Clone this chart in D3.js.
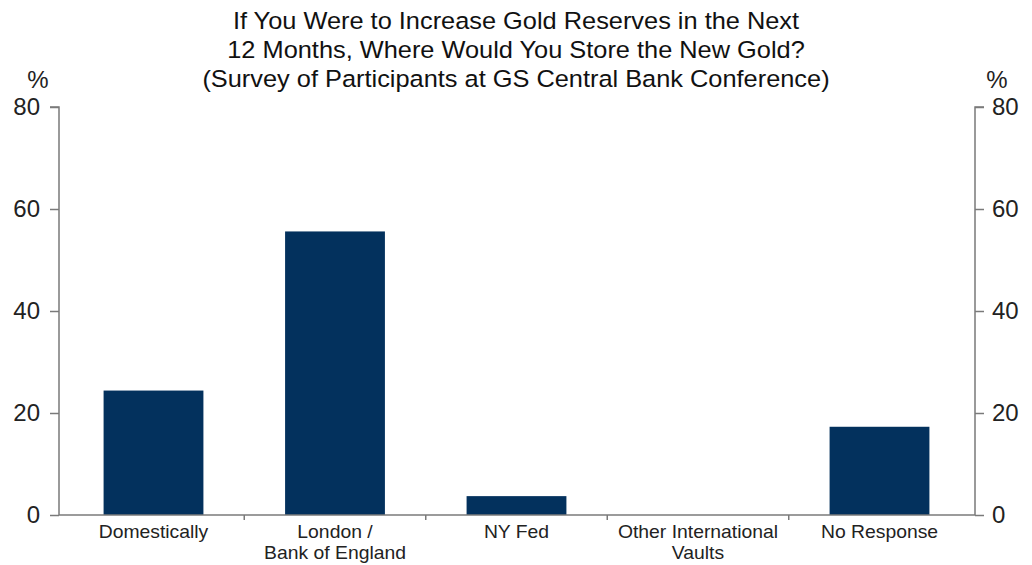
<!DOCTYPE html>
<html><head><meta charset="utf-8">
<script src="https://cdn.jsdelivr.net/npm/d3@7"></script>
<style>body{margin:0;background:#fff;} text{font-family:"Liberation Sans",Arial,sans-serif;}</style>
</head><body>
<svg id="c" width="1032" height="565"></svg>
<script>
const categories = [["Domestically"], ["London /", "Bank of England"], ["NY Fed"], ["Other International", "Vaults"], ["No Response"]];
const values = [24.4, 55.6, 3.7, 0, 17.3];
const yTicks = [0, 20, 40, 60, 80];
const titleLines = ["If You Were to Increase Gold Reserves in the Next", "12 Months, Where Would You Store the New Gold?", "(Survey of Participants at GS Central Bank Conference)"];

(function(){
const svg = d3.select("#c");
const mLeft = 59, mRight = 975, mTop = 107, mBottom = 515;
const keys = categories.map((c,i)=>i);
const x = d3.scaleBand().domain(keys).range([62.75, 970.25]).paddingInner(0.45).paddingOuter(0.225);
const y = d3.scaleLinear().domain([0, 80]).range([mBottom, mTop]);
const axisCol = "#7a7a7a";

svg.selectAll("rect.bar").data(values).join("rect").attr("class","bar")
  .attr("x",(d,i)=>x(i)).attr("width",x.bandwidth())
  .attr("y",d=>y(d)).attr("height",d=>y(0)-y(d)).attr("fill","#03315d");

const yl = svg.append("g").attr("transform",`translate(${mLeft},0)`)
  .call(d3.axisLeft(y).tickValues(yTicks).tickSize(9).tickPadding(10));
const yr = svg.append("g").attr("transform",`translate(${mRight},0)`)
  .call(d3.axisRight(y).tickValues(yTicks).tickSize(9).tickPadding(8));
[yl,yr].forEach(g=>{
  g.select(".domain").attr("stroke",axisCol).attr("stroke-width",1.5).attr("d", g===yl?`M-9,${mTop}H0V${mBottom}`:`M9,${mTop}H0V${mBottom}`);
  g.selectAll(".tick line").attr("stroke",axisCol).attr("stroke-width",1.5);
  g.selectAll(".tick text").attr("fill","#222").style("font-size","24px").attr("font-family","Liberation Sans, Arial, sans-serif");
});

const xb = svg.append("g").attr("transform",`translate(0,${mBottom})`);
xb.append("line").attr("x1",mLeft).attr("x2",mRight).attr("y1",0).attr("y2",0).attr("stroke",axisCol).attr("stroke-width",1.5);
const step = x.step();
const bounds = keys.slice(1).map(i=>x(i) - x.paddingInner()*step/2);
xb.selectAll("line.t").data(bounds).join("line").attr("class","t")
  .attr("x1",d=>d).attr("x2",d=>d).attr("y1",0).attr("y2",5).attr("stroke",axisCol).attr("stroke-width",1.5);
categories.forEach((lines,i)=>{
  const cx = x(i)+x.bandwidth()/2;
  const g = xb.append("g").attr("transform",`translate(${cx},0) scale(1.075,1)`);
  const t = g.append("text").attr("text-anchor","middle").attr("fill","#222").style("font-size","18px");
  lines.forEach((l,j)=>t.append("tspan").attr("x", 0).attr("y", 23+j*21).text(l));
});

svg.append("text").attr("x",38).attr("y",88).attr("text-anchor","middle").attr("fill","#222").style("font-size","24px").text("%");
svg.append("text").attr("x",997).attr("y",88).attr("text-anchor","middle").attr("fill","#222").style("font-size","24px").text("%");

titleLines.forEach((l,i)=>{
  svg.append("g").attr("transform",`translate(516,${29+i*29}) scale(1.08,1)`)
    .append("text").attr("text-anchor","middle").attr("fill","#111").style("font-size","23.5px").text(l);
});
})();
</script>
</body></html>
